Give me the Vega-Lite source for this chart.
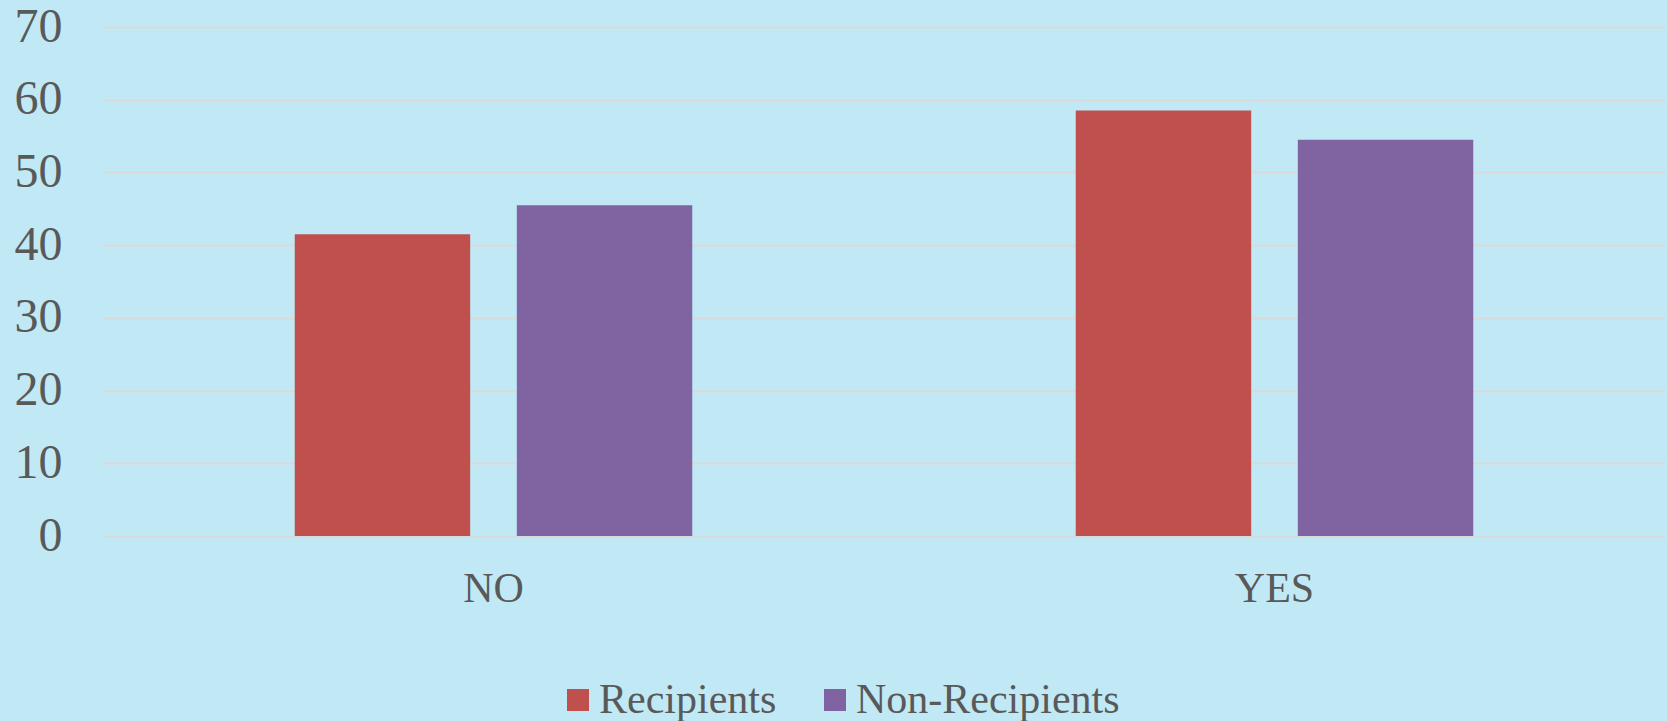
{
  "$schema": "https://vega.github.io/schema/vega-lite/v6.json",
  "autosize": {"type": "none"},
  "padding": {"left": 103, "top": 27, "right": 2, "bottom": 185},
  "width": 1562,
  "height": 509,
  "background": "#c0e9f5",
  "data": {
    "values": [
      {"answer": "NO", "group": "Recipients", "value": 41.5},
      {"answer": "NO", "group": "Non-Recipients", "value": 45.5},
      {"answer": "YES", "group": "Recipients", "value": 58.5},
      {"answer": "YES", "group": "Non-Recipients", "value": 54.5}
    ]
  },
  "mark": {"type": "bar"},
  "encoding": {
    "x": {
      "field": "answer",
      "type": "nominal",
      "sort": ["NO", "YES"],
      "scale": {"paddingInner": 0.491, "paddingOuter": 0.2455},
      "axis": {
        "title": null,
        "labelAngle": 0,
        "ticks": false,
        "domain": false,
        "labelFont": "Liberation Serif",
        "labelFontSize": 42,
        "labelColor": "#595959",
        "labelPadding": 32
      }
    },
    "xOffset": {
      "field": "group",
      "type": "nominal",
      "sort": ["Recipients", "Non-Recipients"],
      "scale": {"paddingInner": 0.21, "paddingOuter": 0}
    },
    "y": {
      "field": "value",
      "type": "quantitative",
      "scale": {"domain": [0, 70], "nice": false},
      "axis": {
        "title": null,
        "values": [0, 10, 20, 30, 40, 50, 60, 70],
        "ticks": false,
        "domain": false,
        "grid": true,
        "gridColor": "#d9d9d9",
        "gridWidth": 2,
        "labelFont": "Liberation Serif",
        "labelFontSize": 48,
        "labelColor": "#595959",
        "labelPadding": 41
      }
    },
    "color": {
      "field": "group",
      "type": "nominal",
      "sort": ["Recipients", "Non-Recipients"],
      "scale": {"domain": ["Recipients", "Non-Recipients"], "range": ["#c0504d", "#8064a2"]},
      "legend": {
        "title": null,
        "orient": "none",
        "direction": "horizontal",
        "legendX": 454,
        "legendY": 652,
        "symbolType": "square",
        "symbolSize": 484,
        "symbolStrokeWidth": 0,
        "symbolOpacity": 1,
        "labelFont": "Liberation Serif",
        "labelFontSize": 42,
        "labelLimit": 0,
        "labelColor": "#595959",
        "labelOffset": 0,
        "columnPadding": 37,
        "padding": 0
      }
    }
  },
  "config": {
    "view": {"stroke": null},
    "axis": {"gridCap": "butt"}
  }
}
